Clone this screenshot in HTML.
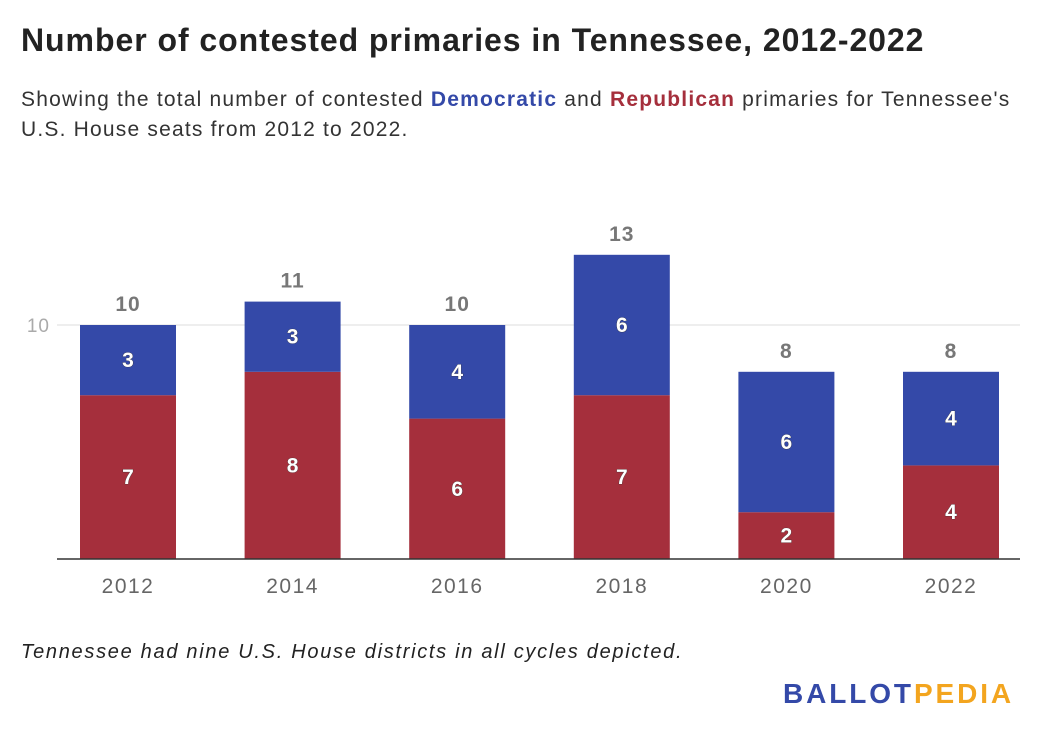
<!DOCTYPE html>
<html><head><meta charset="utf-8"><style>
body{margin:0;width:1040px;height:740px;background:#fff;font-family:"Liberation Sans",sans-serif;overflow:hidden;position:relative}
.t{position:absolute;left:21px;top:22px;font-size:32px;font-weight:bold;color:#222;letter-spacing:0.95px}
.s{position:absolute;left:21px;top:85px;font-size:21px;line-height:30px;color:#333;width:1005px;letter-spacing:1.2px}
.n{position:absolute;left:21px;top:641px;font-size:20px;font-style:italic;color:#222;letter-spacing:1.7px}
.logo{position:absolute;left:783px;top:678px;font-size:28px;font-weight:bold;letter-spacing:2.9px}
</style></head><body>
<div class="t">Number of contested primaries in Tennessee, 2012-2022</div>
<div class="s">Showing the total number of contested <b style="color:#3449a8">Democratic</b> and <b style="color:#a52f3c">Republican</b> primaries for Tennessee's U.S. House seats from 2012 to 2022.</div>
<svg id="c" width="1040" height="740" style="position:absolute;left:0;top:0"></svg>
<div class="n">Tennessee had nine U.S. House districts in all cycles depicted.</div>
<div class="logo"><span style="color:#3449a8">BALLOT</span><span style="color:#f3a51f">PEDIA</span></div>
<script>
const years=["2012","2014","2016","2018","2020","2022"];
const rep=[7,8,6,7,2,4];
const dem=[3,3,4,6,6,4];
const ticks=[10];
const svg=document.getElementById('c');
const NS='http://www.w3.org/2000/svg';
const y0=559, k=23.4;
const y=v=>y0-v*k;
const x=i=>80+i*164.6;
const bw=96;
function mk(t,a,txt){const e=document.createElementNS(NS,t);for(const p in a)e.setAttribute(p,a[p]);if(txt!=null)e.textContent=txt;svg.appendChild(e);return e;}
ticks.forEach(t=>{
 let l=mk('line',{x1:57,x2:1020,y1:y(t),y2:y(t),stroke:'#ddd','stroke-width':1});
 
 
 let tx=mk('text',{x:50,y:y(t)+7,'text-anchor':'end','font-size':19,fill:'#aaa','letter-spacing':1},t);
 
 
});
years.forEach((yr,i)=>{
 const r=rep[i],d=dem[i],tot=r+d,cx=x(i)+bw/2;
 let b1=mk('rect',{x:x(i),y:y(r),width:bw,height:r*k,fill:'#a52f3c'});
 
 
 let b2=mk('rect',{x:x(i),y:y(tot),width:bw,height:d*k,fill:'#3449a8'});
 
 
 let st={'text-anchor':'middle','font-size':21,'font-weight':'bold',fill:'#fff',stroke:'#333','stroke-width':0.6,'paint-order':'stroke'};
 let l1=mk('text',Object.assign({x:cx,y:y(r/2)+7},st),r);
 
 
 let l2=mk('text',Object.assign({x:cx,y:y(r+d/2)+7},st),d);
 
 
 let lt=mk('text',{x:cx,y:y(tot)-14,'text-anchor':'middle','font-size':21,'font-weight':'bold',fill:'#777','letter-spacing':1},tot);
 
 
 let xl=mk('text',{x:cx,y:593,'text-anchor':'middle','font-size':21,fill:'#666','letter-spacing':1.5},yr);
 
 
});
let ax=mk('line',{x1:57,x2:1020,y1:y0,y2:y0,stroke:'#333','stroke-width':1.5});


</script>
</body></html>
